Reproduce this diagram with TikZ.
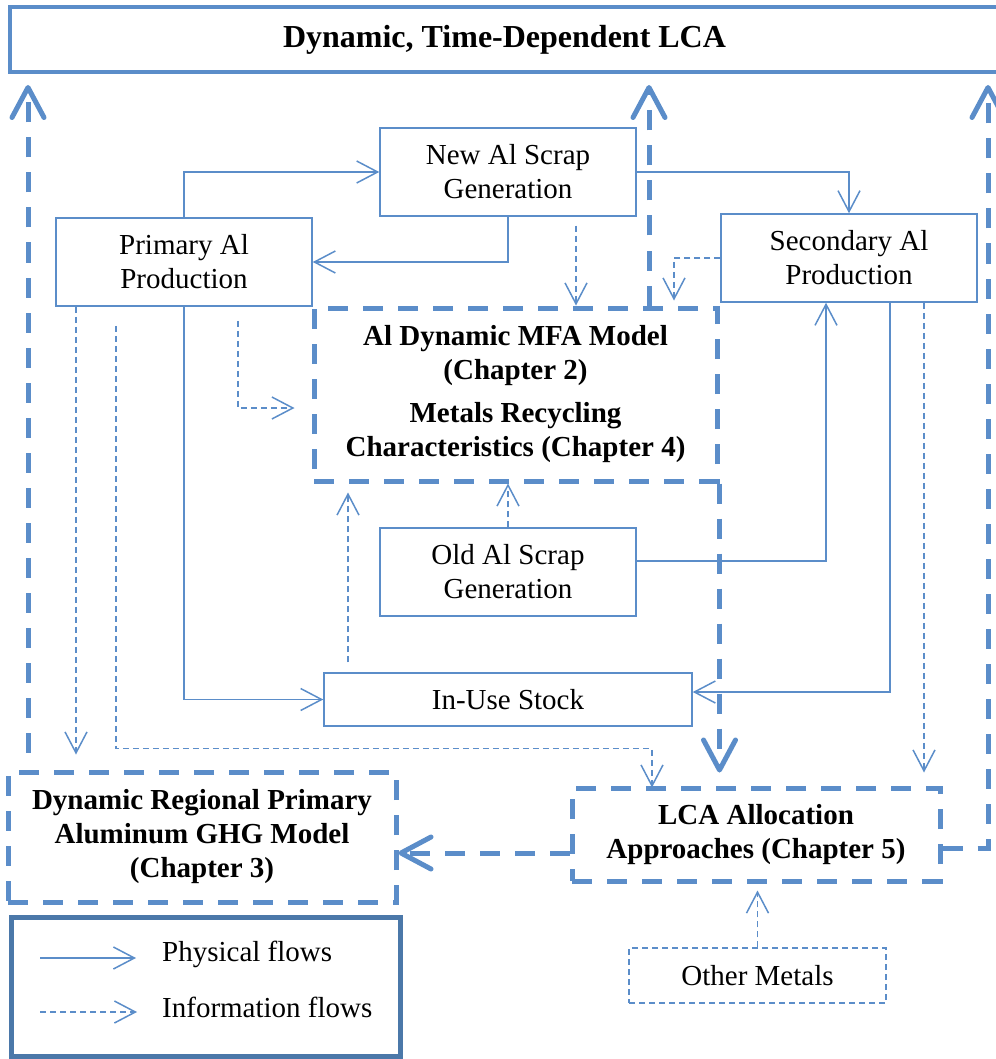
\documentclass[tikz,border=0pt]{standalone}
\usepackage{fontspec}
\setmainfont{Liberation Serif}
\usetikzlibrary{arrows.meta}
\definecolor{flowblue}{RGB}{91,141,201}
\definecolor{legendblue}{RGB}{75,120,169}
\tikzset{
  box/.style={draw=flowblue, line width=1.5pt, minimum width=256pt, minimum height=88pt, inner sep=0pt, align=center, font=\fontsize{29}{34}\selectfont},
  chapbox/.style={draw=flowblue, line width=5pt, dash pattern=on 20pt off 15pt, inner sep=0pt, align=center, font=\fontsize{29}{34}\selectfont\bfseries},
  phys/.style={draw=flowblue, line width=1.5pt, -{Straight Barb[length=21pt,width=22pt]}},
  info/.style={phys, dash pattern=on 6pt off 4pt},
  feed/.style={draw=flowblue, line width=5pt, dash pattern=on 20pt off 15pt, -{Straight Barb[length=30pt,width=32pt,round]}},
}
\begin{document}
\begin{tikzpicture}[x=1pt,y=-1pt]
\useasboundingbox (0,0) rectangle (995,1059);
% Top frame
\node[draw=flowblue, line width=4pt, minimum width=989pt, minimum height=65pt, inner sep=0pt, font=\fontsize{32}{38}\selectfont\bfseries] (dynlca) at (504.5,39.5) {Dynamic, Time-Dependent LCA};
% Process boxes
\node[box] (newscrap) at (508,172) {New Al Scrap\\Generation};
\node[box] (primary) at (184,262) {Primary Al\\Production};
\node[box] (secondary) at (849,258) {Secondary Al\\Production};
\node[box] (oldscrap) at (508,572) {Old Al Scrap\\Generation};
\node[box, minimum width=368pt, minimum height=53pt] (stock) at (508,699.5) {In-Use Stock};
\node[box, dash pattern=on 6pt off 4pt, minimum width=257pt, minimum height=55pt] (other) at (757.5,975.5) {Other Metals};
% Chapter boxes
\node[chapbox, minimum width=403pt, minimum height=173pt] (mfa) at (515.5,394.5) {Al Dynamic MFA Model\\(Chapter 2)\\[9pt]Metals Recycling\\Characteristics (Chapter 4)};
\node[chapbox, minimum width=388pt, minimum height=130pt] (ghg) at (202,837) {Dynamic Regional Primary\\Aluminum GHG Model\\(Chapter 3)};
\node[chapbox, minimum width=368pt, minimum height=93pt] (lca) at (756,834.5) {LCA Allocation\\Approaches (Chapter 5)};
% Physical flows
\draw[phys] (primary.north) |- (newscrap.west);
\draw[phys] (newscrap.south) |- (primary.east);
\draw[phys] (newscrap.east) -| (secondary.north);
\draw[phys] (primary.south) |- (stock.west);
\draw[phys] ([yshift=11pt]oldscrap.east) -| ([xshift=-23pt]secondary.south);
\draw[phys] ([xshift=41pt]secondary.south) |- ([yshift=7.5pt]stock.east);
% Information flows
\coordinate (n1) at ([xshift=68pt,yshift=-9pt]newscrap.south);
\draw[info] (n1) -- (n1 |- mfa.north);
\draw[info] (secondary.west) -| ([xshift=158.5pt,yshift=5pt]mfa.north);
\coordinate (p1) at ([xshift=54pt,yshift=-14pt]primary.south);
\draw[info] (p1) |- ([xshift=-17pt,yshift=-13.5pt]mfa.west);
\coordinate (p2) at ([xshift=-108pt]primary.south);
\draw[info, shorten >=15pt] (p2) -- (p2 |- ghg.north);
\coordinate (p3) at ([xshift=-68pt,yshift=-19pt]primary.south);
\coordinate (l1) at ([xshift=-104pt,yshift=-2pt]lca.north);
\draw[info] (p3) |- ([yshift=39pt]l1) -- (l1);
\coordinate (k1) at ([xshift=-160pt,yshift=10pt]stock.north);
\draw[info, shorten >=9pt] (k1) -- (k1 |- mfa.south);
\draw[info] (oldscrap.north) -- (oldscrap.north |- mfa.south);
\coordinate (s2) at ([xshift=75pt]secondary.south);
\draw[info, shorten >=13pt] (s2) -- (s2 |- lca.north);
\draw[info, shorten >=7pt] (other.north) -- (other.north |- lca.south);
% Feedback to the time-dependent LCA
\coordinate (m1) at ([xshift=133.5pt]mfa.north);
\draw[feed, shorten >=11pt] (m1) -- (m1 |- dynlca.south);
\draw[feed, shorten >=13pt] (mfa.south east) -- (mfa.south east |- lca.north);
\coordinate (g1) at ([xshift=-174pt,yshift=17pt]ghg.north);
\draw[feed, shorten >=11pt] (g1) -- (g1 |- dynlca.south);
\draw[feed, shorten >=11pt] ([yshift=-13.5pt]lca.east) -| ([xshift=-13pt]dynlca.south east);
\coordinate (l2) at ([yshift=-18.5pt]lca.west);
\draw[feed] (l2) -- (l2 -| ghg.east);
% Legend
\node[draw=legendblue, line width=5pt, minimum width=389pt, minimum height=139pt, inner sep=0pt] (legend) at (205.5,986.5) {};
\coordinate (physA) at (40,958);
\coordinate (physB) at (136,958);
\draw[phys] (physA) -- (physB);
\node[anchor=base west, inner sep=0pt, font=\fontsize{29}{34}\selectfont] (physlabel) at (162,961) {Physical flows};
\coordinate (infoA) at (40,1012);
\coordinate (infoB) at (137,1012);
\draw[info] (infoA) -- (infoB);
\node[anchor=base west, inner sep=0pt, font=\fontsize{29}{34}\selectfont] (infolabel) at (162,1017) {Information flows};
\end{tikzpicture}
\end{document}
